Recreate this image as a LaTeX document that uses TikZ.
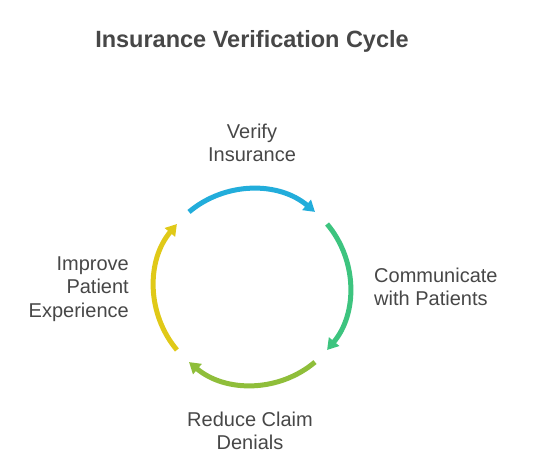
\documentclass[tikz,border=0pt]{standalone}
\usepackage{fontspec}
\setmainfont{Liberation Sans}
\usepackage{xcolor}
\usetikzlibrary{arrows.meta}
\definecolor{txtgray}{HTML}{474747}
\definecolor{cycblue}{HTML}{22ADDB}
\definecolor{cycgreen}{HTML}{3DC47F}
\definecolor{cycolive}{HTML}{8FBE3A}
\definecolor{cycyellow}{HTML}{E0C918}

\begin{document}
\begin{tikzpicture}[x=1pt,y=1pt,>=Triangle,
  cyc/.style={line width=5pt,-{Triangle[length=11pt,width=13pt]}},
  lbl/.style={text=txtgray,font=\fontsize{20}{23.5}\selectfont,inner sep=0pt}]
  \useasboundingbox (0,0) rectangle (540,453);
  \coordinate (C) at (252,166);
  \node[text=txtgray,font=\fontsize{23.5}{28}\selectfont\bfseries,anchor=base,inner sep=0pt] (title) at (252,405) {Insurance Verification Cycle};
  % cycle arcs
  \draw[cyc,cycblue] ([shift={(130:98pt)}]C) arc[start angle=130,end angle=50,radius=98pt];
  \draw[cyc,cycgreen] ([shift={(40:98pt)}]C) arc[start angle=40,end angle=-40,radius=98pt];
  \draw[cyc,cycolive] ([shift={(-50:98pt)}]C) arc[start angle=-50,end angle=-130,radius=98pt];
  \draw[cyc,cycyellow] ([shift={(-140:98pt)}]C) arc[start angle=-140,end angle=-220,radius=98pt];
  % step labels
  \node[lbl,align=center] (verify) at (252,310) {Verify\\Insurance};
  \node[lbl,align=left,anchor=west] (communicate) at (374,166) {Communicate\\with Patients};
  \node[lbl,align=center] (reduce) at (250,22) {Reduce Claim\\Denials};
  \node[lbl,align=right,anchor=east] (improve) at (129,164) {Improve\\Patient\\Experience};
\end{tikzpicture}
\end{document}
